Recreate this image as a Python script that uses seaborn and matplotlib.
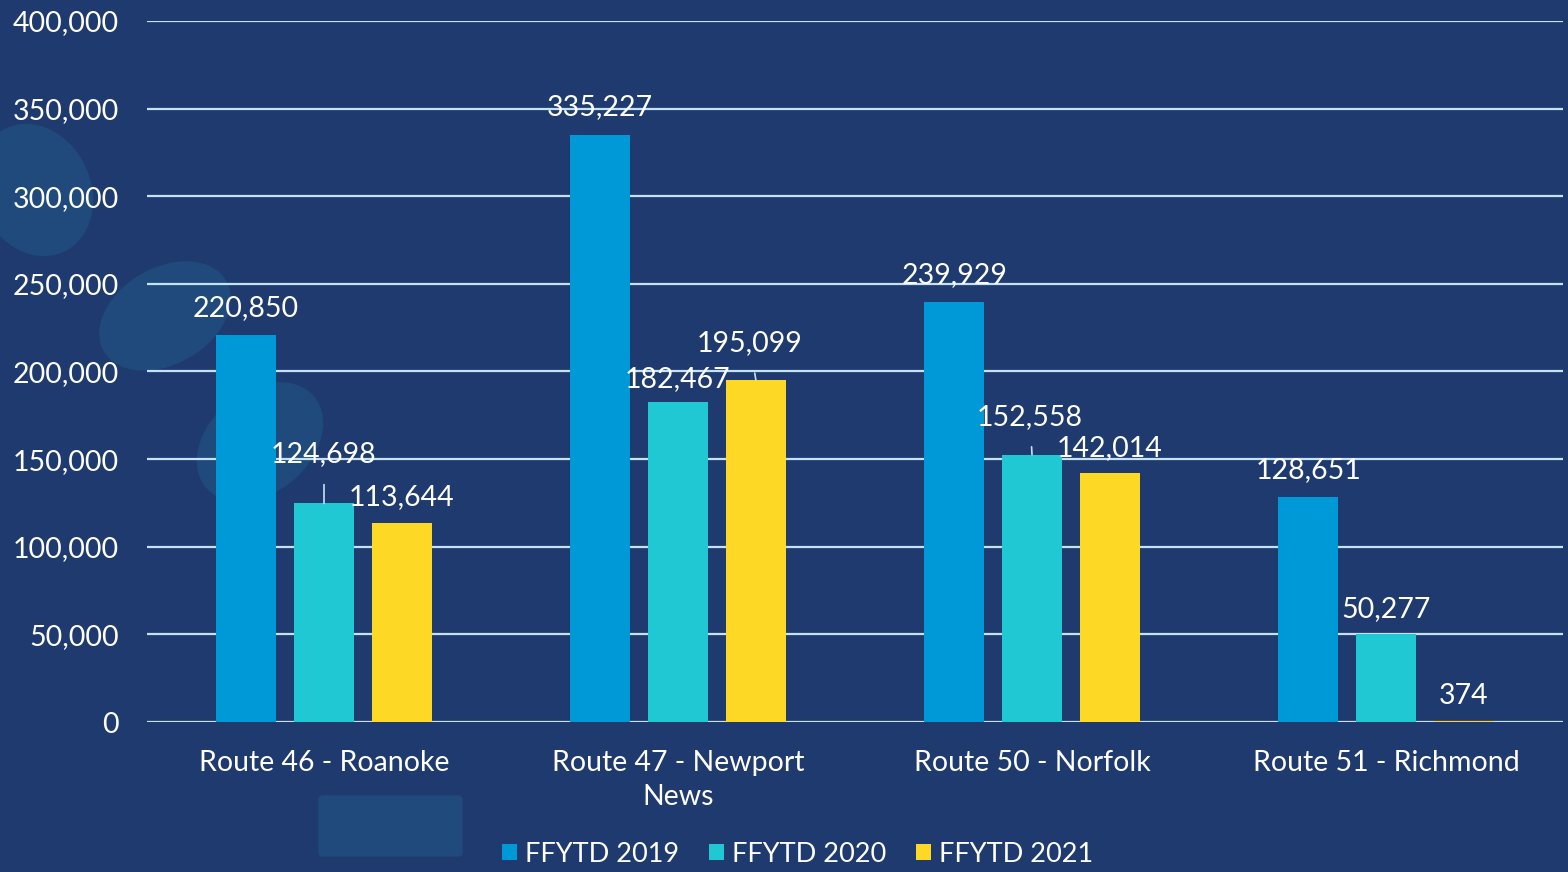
import matplotlib
matplotlib.use("Agg")
import matplotlib.pyplot as plt
from matplotlib.patches import FancyBboxPatch, Ellipse
import seaborn as sns
import pandas as pd

routes = ["Route 46 - Roanoke", "Route 47 - Newport\nNews", "Route 50 - Norfolk", "Route 51 - Richmond"]
series = ["FFYTD 2019", "FFYTD 2020", "FFYTD 2021"]
ffytd_2019 = [220850, 335227, 239929, 128651]
ffytd_2020 = [124698, 182467, 152558, 50277]
ffytd_2021 = [113644, 195099, 142014, 374]
y_ticks = [0, 50000, 100000, 150000, 200000, 250000, 300000, 350000, 400000]

colors = ["#0099D8", "#1FC8D3", "#FDD825"]
bg = "#1F3A6E"
grid_c = "#C3E3F5"
FS = 20.5

rows = []
for s, vals in zip(series, [ffytd_2019, ffytd_2020, ffytd_2021]):
    for r, v in zip(routes, vals):
        rows.append({"route": r, "series": s, "value": v})
df = pd.DataFrame(rows)

sns.set_theme(style="white")
plt.rcParams["font.family"] = ["Lato", "DejaVu Sans"]

fig = plt.figure(figsize=(15.68, 8.72), dpi=100, facecolor=bg)

# decorative background blobs (in a background axes)
bax = fig.add_axes([0, 0, 1, 1], zorder=0)
bax.set_xlim(0, 1568)
bax.set_ylim(872, 0)
bax.axis("off")
bax.set_facecolor("none")
blob_c = "#204A7B"
bax.add_patch(Ellipse((35, 190), 110, 135, angle=-25, color=blob_c))
bax.add_patch(Ellipse((165, 316), 140, 95, angle=-30, color=blob_c))
bax.add_patch(Ellipse((260, 442), 140, 100, angle=-40, color=blob_c))
bax.add_patch(FancyBboxPatch((323, 800), 135, 52, boxstyle="round,pad=4", color=blob_c))

ax = fig.add_axes([147/1568, 1 - 722/872, 1416/1568, 701/872], zorder=2)
ax.set_facecolor("none")

sns.barplot(data=df, x="route", y="value", hue="series", order=routes, hue_order=series,
            palette=colors, width=0.66, gap=0.22, saturation=1, ax=ax, zorder=3,
            legend=True, linewidth=0, edgecolor="none")

ax.set_ylim(0, 400000)
ax.set_xlim(-0.5, 3.5)
ax.set_yticks(y_ticks)
ax.set_yticklabels([f"{t:,}" for t in y_ticks], color="white", fontsize=FS)
ax.tick_params(axis="y", length=0, pad=20)
ax.tick_params(axis="x", length=0, pad=20, labelsize=FS, labelcolor="white")
for lab in ax.get_xticklabels():
    lab.set_linespacing(1.4)
ax.set_xlabel("")
ax.set_ylabel("")
for t in y_ticks:
    ax.axhline(t, color=grid_c, lw=1.6, zorder=1)
for sp in ax.spines.values():
    sp.set_visible(False)

# data labels: (dx px, dy px, leader)
offsets = {
    ("FFYTD 2019", 0): (0, 27, False), ("FFYTD 2020", 0): (0, 49, True), ("FFYTD 2021", 0): (0, 26, False),
    ("FFYTD 2019", 1): (0, 27, False), ("FFYTD 2020", 1): (0, 23, False), ("FFYTD 2021", 1): (-6, 37, True),
    ("FFYTD 2019", 2): (0, 26, False), ("FFYTD 2020", 2): (-2, 38, True), ("FFYTD 2021", 2): (0, 25, False),
    ("FFYTD 2019", 3): (0, 26, False), ("FFYTD 2020", 3): (0, 25, False), ("FFYTD 2021", 3): (0, 25, False),
}
for s, cont in zip(series, ax.containers):
    for i, bar in enumerate(cont):
        h = bar.get_height()
        xc = bar.get_x() + bar.get_width() / 2
        dx, dy, leader = offsets[(s, i)]
        kw = {}
        if leader:
            kw["arrowprops"] = dict(arrowstyle="-", color=grid_c, lw=1.2, shrinkA=10, shrinkB=0)
        ax.annotate(f"{int(h):,}", xy=(xc, h), xytext=(dx, dy), textcoords="offset pixels",
                    ha="center", va="center", color="white", fontsize=FS, zorder=5, **kw)

handles, labels = ax.get_legend_handles_labels()
ax.get_legend().remove()
fig.legend(handles, labels, loc="center", bbox_to_anchor=(798/1568, 1 - 854/872), ncol=3, frameon=False,
           fontsize=19.5, handlelength=0.55, handleheight=0.55, handletextpad=0.3,
           columnspacing=1.1, labelcolor="white", borderaxespad=0, borderpad=0)

fig.savefig("out.png", dpi=100, facecolor=bg)
